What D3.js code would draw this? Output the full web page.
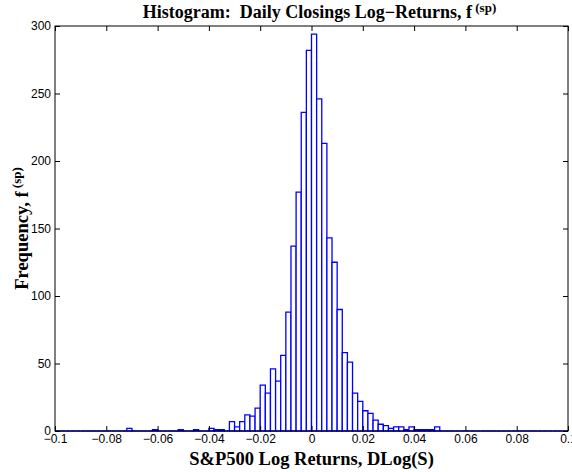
<!DOCTYPE html>
<html>
<head>
<meta charset="utf-8">
<script src="https://cdn.jsdelivr.net/npm/d3@7"></script>
<style>
  body { margin: 0; background: #fff; }
  svg { display: block; }
</style>
</head>
<body>
<div id="chart"></div>
<script>
// 히스토그램 데이터 (bin 폭 0.002, -0.1 ~ 0.1)
const binStart = -0.1;
const binWidth = 0.002;
const counts = [
  0, 0, 0, 0, 0, 0, 0, 0, 0, 0,
  0, 0, 0, 0, 2, 0, 0, 0, 0, 1,
  0, 0, 0, 0, 1, 0, 0, 1, 0, 0,
  2, 1, 1, 0, 7, 3, 7, 12, 11, 17,
  34, 28, 46, 37, 56, 88, 137, 177, 236, 282,
  294, 246, 213, 143, 125, 90, 58, 51, 28, 22,
  15, 13, 8, 5, 4, 2, 3, 3, 1, 3,
  1, 1, 1, 1, 3, 0, 0, 0, 0, 0,
  0, 0, 0, 0, 0, 0, 0, 0, 0, 0,
  0, 0, 0, 0, 0, 0, 0, 0, 0, 0
];
const xTicks = [-0.1, -0.08, -0.06, -0.04, -0.02, 0, 0.02, 0.04, 0.06, 0.08, 0.1];
const xTickLabels = ['\u22120.1', '\u22120.08', '\u22120.06', '\u22120.04', '\u22120.02', '0', '0.02', '0.04', '0.06', '0.08', '0.1'];
const yTicks = [0, 50, 100, 150, 200, 250, 300];

const W = 572, H = 472;
const margin = { top: 26, right: 4, bottom: 41, left: 55 };
const iw = W - margin.left - margin.right;
const ih = H - margin.top - margin.bottom;

const svg = d3.select('#chart').append('svg')
  .attr('width', W)
  .attr('height', H);

const g = svg.append('g').attr('transform', `translate(${margin.left},${margin.top})`);

const x = d3.scaleLinear().domain([-0.1, 0.1]).range([0, iw]);
const y = d3.scaleLinear().domain([0, 300]).range([ih, 0]);

const bins = counts.map((c, i) => ({ x0: binStart + i * binWidth, x1: binStart + (i + 1) * binWidth, n: c }));

// 막대 (높이 0 도 선으로 보이도록 path 사용)
g.selectAll('.bar')
  .data(bins)
  .join('path')
  .attr('class', 'bar')
  .attr('d', d => {
    const a = x(d.x0), b = x(d.x1), t = y(d.n), z = y(0);
    return `M${a},${z}L${a},${t}L${b},${t}L${b},${z}Z`;
  })
  .style('fill', '#fff')
  .style('stroke', '#0000ff')
  .style('stroke-width', 1.3);

const tickFont = '"Liberation Sans", Arial, sans-serif';

// 축
const xAxis = g.append('g')
  .attr('transform', `translate(0,${ih})`)
  .call(d3.axisBottom(x).tickValues(xTicks).tickFormat((d, i) => xTickLabels[i]).tickSizeInner(-5).tickSizeOuter(0).tickPadding(3));
const xTop = g.append('g')
  .call(d3.axisTop(x).tickValues(xTicks).tickFormat('').tickSizeInner(-5).tickSizeOuter(0));
const yAxis = g.append('g')
  .call(d3.axisLeft(y).tickValues(yTicks).tickSizeInner(-5).tickSizeOuter(0).tickPadding(4));
const yRight = g.append('g')
  .attr('transform', `translate(${iw},0)`)
  .call(d3.axisRight(y).tickValues(yTicks).tickFormat('').tickSizeInner(-5).tickSizeOuter(0));

[xAxis, xTop, yAxis, yRight].forEach(a => {
  a.select('.domain').remove();
  a.selectAll('.tick line').attr('stroke', '#000');
  a.selectAll('text')
    .style('font-family', tickFont)
    .style('font-size', '12px')
    .attr('fill', '#000');
});

// 테두리
g.append('rect')
  .attr('x', 0).attr('y', 0)
  .attr('width', iw).attr('height', ih)
  .style('fill', 'none')
  .style('stroke', '#000')
  .style('stroke-width', 1);

const serif = '"Liberation Serif", "Times New Roman", serif';

// 제목
const title = svg.append('text')
  .attr('x', margin.left + iw / 2 + 8)
  .attr('y', 18)
  .attr('text-anchor', 'middle')
  .style('white-space', 'pre')
  .style('font-family', serif)
  .style('font-weight', 'bold')
  .style('font-size', '18px');
title.append('tspan').text('Histogram:  Daily Closings Log\u2212Returns, f');
title.append('tspan').attr('dy', -6).style('font-size', '13px').text(' (sp)');

// x 라벨
svg.append('text')
  .attr('x', margin.left + iw / 2)
  .attr('y', 465)
  .attr('text-anchor', 'middle')
  .style('font-family', serif)
  .style('font-weight', 'bold')
  .style('font-size', '18.5px')
  .text('S&P500 Log Returns, DLog(S)');

// y 라벨
const ylab = svg.append('text')
  .attr('transform', `translate(28,${margin.top + ih / 2}) rotate(-90)`)
  .attr('text-anchor', 'middle')
  .style('white-space', 'pre')
  .style('font-family', serif)
  .style('font-weight', 'bold')
  .style('font-size', '18.5px');
ylab.append('tspan').text('Frequency, f');
ylab.append('tspan').attr('dy', -7).style('font-size', '13px').text(' (sp)');
</script>
</body>
</html>
